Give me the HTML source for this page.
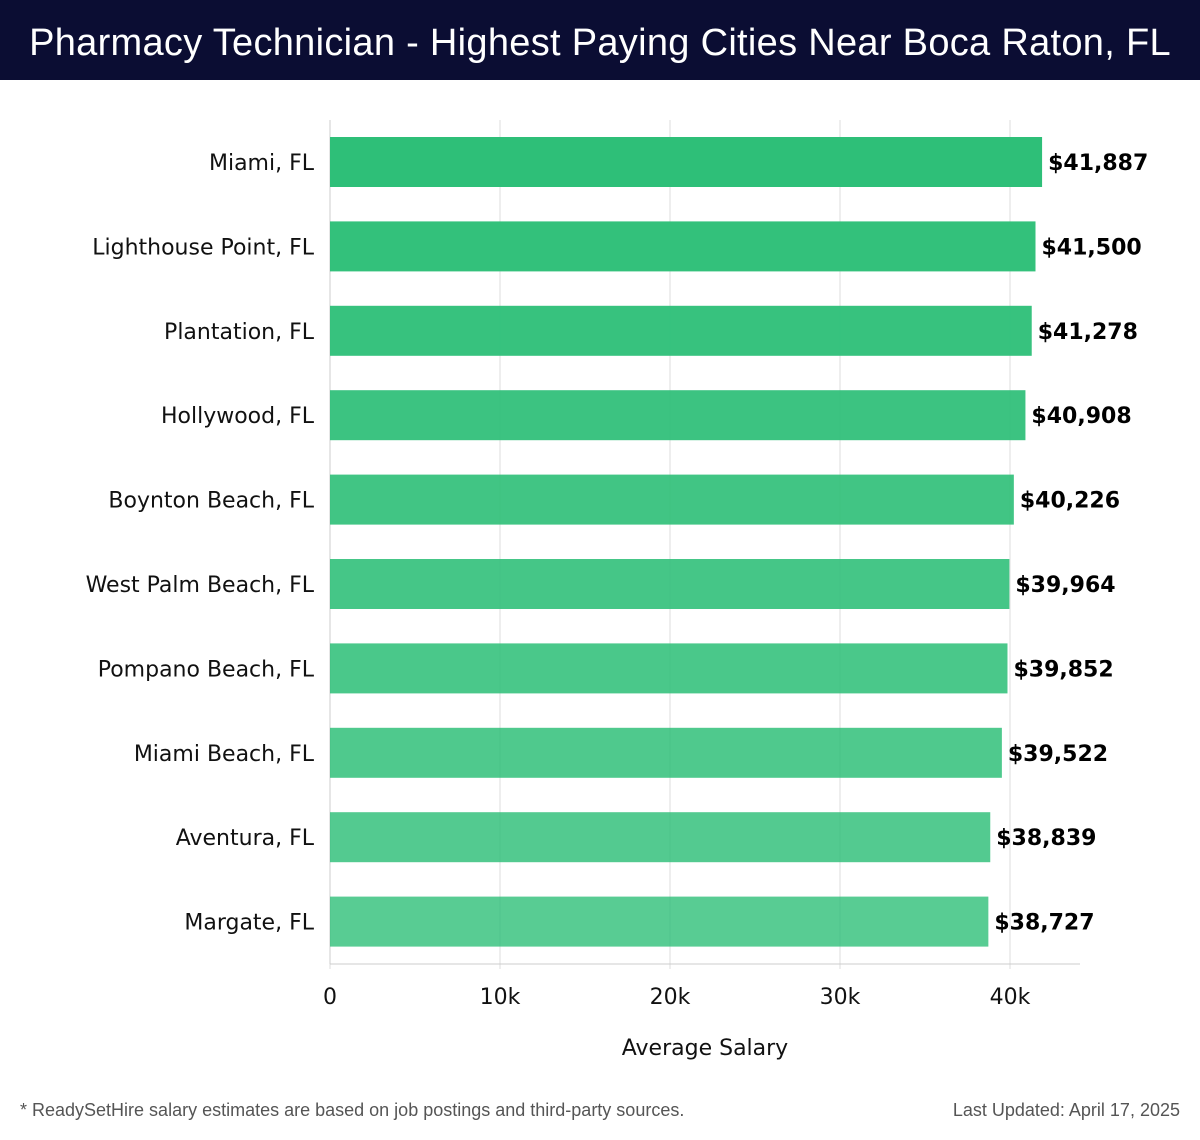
<!DOCTYPE html>
<html><head><meta charset="utf-8"><style>
body{margin:0;width:1200px;height:1140px;background:#fff;position:relative;overflow:hidden;font-family:"DejaVu Sans","Liberation Sans",sans-serif}
#title{position:absolute;left:0;top:0;width:1200px;height:80px;background:#0b0d33;color:#fff;font-family:"Liberation Sans",sans-serif;font-size:38px;line-height:86px;text-align:center;letter-spacing:0.3px}
.foot{position:absolute;top:1100px;font-family:"Liberation Sans",sans-serif;font-size:18px;color:#555}
</style></head><body>
<div id="title">Pharmacy Technician - Highest Paying Cities Near Boca Raton, FL</div>
<svg id="chart" width="1200" height="1090" style="position:absolute;left:0;top:0"></svg>
<div class="foot" style="left:20px">* ReadySetHire salary estimates are based on job postings and third-party sources.</div>
<div class="foot" style="right:20px">Last Updated: April 17, 2025</div>
<script>
const categories=["Miami, FL","Lighthouse Point, FL","Plantation, FL","Hollywood, FL","Boynton Beach, FL","West Palm Beach, FL","Pompano Beach, FL","Miami Beach, FL","Aventura, FL","Margate, FL"];
const values=[41887,41500,41278,40908,40226,39964,39852,39522,38839,38727];
const valueLabels=["$41,887","$41,500","$41,278","$40,908","$40,226","$39,964","$39,852","$39,522","$38,839","$38,727"];
const tickValues=[0,10000,20000,30000,40000];
const tickLabels=["0","10k","20k","30k","40k"];
const NS="http://www.w3.org/2000/svg";
const svg=document.getElementById('chart');
const x0=330,pxPer=680/40000,top0=120,step=84.4,barH=50,axisY=964;
const xs=v=>x0+v*pxPer;
const yc=i=>top0+42+i*step;
function mk(t,a){const e=document.createElementNS(NS,t);for(const k in a)e.setAttribute(k,a[k]);svg.appendChild(e);return e;}
tickValues.forEach((v,i)=>{
 const g=mk('line',{x1:xs(v),x2:xs(v),y1:top0,y2:axisY+5,stroke:'#ddd','stroke-width':1});
 
 
 const t=mk('text',{x:xs(v),y:1004,'text-anchor':'middle','font-size':22,fill:'#111'});
 t.textContent=tickLabels[i];
 
 
});
const ax=mk('line',{x1:x0,x2:1080,y1:axisY,y2:axisY,stroke:'#ccc','stroke-width':1});


const ay=mk('line',{x1:x0,x2:x0,y1:top0,y2:axisY,stroke:'#ccc','stroke-width':1});


categories.forEach((c,i)=>{
 const op=1-0.2*i/(categories.length-1);
 const r=mk('rect',{x:x0,y:yc(i)-barH/2,width:xs(values[i])-x0,height:barH,fill:'#2ebf78','fill-opacity':op.toFixed(3)});
 
 
 const l=mk('text',{x:314,y:yc(i)+8,'text-anchor':'end','font-size':22,fill:'#111'});
 l.textContent=c;
 
 
 const v=mk('text',{x:xs(values[i])+6,y:yc(i)+8,'font-size':22,'font-weight':'bold',fill:'#000'});
 v.textContent=valueLabels[i];
 
 
});
const at=mk('text',{x:705,y:1055,'text-anchor':'middle','font-size':22,fill:'#111'});
at.textContent='Average Salary';


</script>
</body></html>
